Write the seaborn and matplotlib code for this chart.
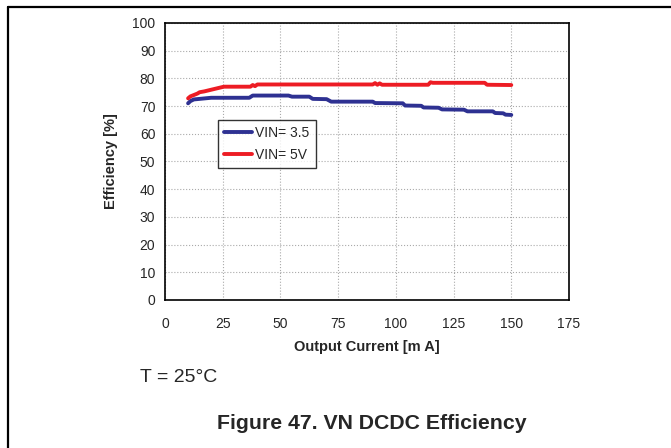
import pandas as pd
import matplotlib.pyplot as plt
import seaborn as sns
from matplotlib.lines import Line2D

# Efficiency curves
blue_x = [10, 11, 12.5, 15, 20, 36.5, 38, 53.5, 55, 62.5, 64, 70, 72, 90, 91, 103,
          104, 111, 112, 118.5, 120, 129.5, 131, 142, 143, 146.5, 147.5, 150]
blue_y = [71.0, 71.8, 72.4, 72.6, 73.0, 73.0, 73.8, 73.8, 73.4, 73.4, 72.6, 72.5,
          71.6, 71.6, 71.1, 71.0, 70.2, 70.1, 69.5, 69.4, 68.8, 68.7, 68.1, 68.1,
          67.5, 67.4, 66.9, 66.8]
red_x = [10, 11, 12.5, 14, 15, 17, 19.5, 22, 25.5, 37, 38, 39, 40, 90, 91, 92, 93,
         94, 114, 115, 116, 138.5, 139.5, 150]
red_y = [72.8, 73.5, 74.0, 74.5, 75.0, 75.3, 75.8, 76.3, 77.0, 77.0, 77.6, 77.2,
         77.8, 77.8, 78.3, 77.7, 78.2, 77.7, 77.7, 78.6, 78.4, 78.4, 77.7, 77.6]
series_names = ["VIN= 3.5", "VIN= 5V"]
x_ticks = [0, 25, 50, 75, 100, 125, 150, 175]
y_ticks = [0, 10, 20, 30, 40, 50, 60, 70, 80, 90, 100]

df = pd.concat([
    pd.DataFrame({"current": blue_x, "eff": blue_y, "series": series_names[0]}),
    pd.DataFrame({"current": red_x, "eff": red_y, "series": series_names[1]}),
])

sns.set_style("white")
plt.rcParams['font.family'] = ['Liberation Sans', 'DejaVu Sans']

fig = plt.figure(figsize=(6.71, 4.48), dpi=100)
ax = fig.add_axes([0.2459, 0.3304, 0.6021, 0.6183])

sns.lineplot(data=df, x="current", y="eff", hue="series", sort=False, estimator=None,
             palette={series_names[0]: "#2E3192", series_names[1]: "#ED1C24"},
             linewidth=2.8, ax=ax)

ax.set_xlim(0, 175)
ax.set_ylim(0, 100)
ax.set_xticks(x_ticks)
ax.set_yticks(y_ticks)
ax.tick_params(axis='both', direction='out', length=4, width=1, color='black',
               labelsize=10, pad=8)
ax.tick_params(axis='y', pad=3)
ax.grid(True, linestyle=':', color='#aaaaaa', linewidth=0.8)
for s in ax.spines.values():
    s.set_color('black')
    s.set_linewidth(1.2)

ax.set_xlabel("Output Current [m A]", fontsize=10.5, fontweight='bold', labelpad=7)
ax.set_ylabel("Efficiency [%]", fontsize=10.5, fontweight='bold', labelpad=10)

leg = ax.legend(loc='upper left', bbox_to_anchor=(0.131, 0.65), borderaxespad=0,
                fontsize=10, frameon=True, fancybox=False, handlelength=2.0,
                handletextpad=0.25, borderpad=0.45, labelspacing=0.55)
leg.get_frame().set_edgecolor('black')
leg.get_frame().set_linewidth(1.0)
leg.set_title(None)

fig.text(140 / 671, 1 - 377 / 448, "T = 25°C", fontsize=14, ha='left', va='center')
fig.text(372 / 671, 1 - 423 / 448, "Figure 47. VN DCDC Efficiency", fontsize=15.3,
         fontweight='bold', ha='center', va='center')

# page frame (top and left edges)
fig.add_artist(Line2D([8 / 671, 1], [1 - 7 / 448, 1 - 7 / 448], color='black', lw=1.6))
fig.add_artist(Line2D([8 / 671, 8 / 671], [0, 1 - 7 / 448], color='black', lw=1.6))

fig.savefig("out.png", dpi=100)
